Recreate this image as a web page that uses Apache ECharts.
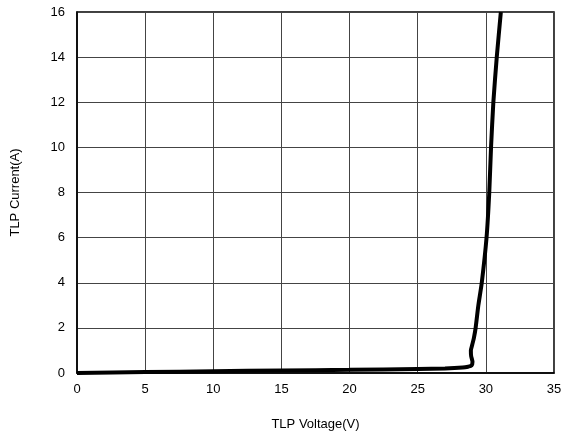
<!DOCTYPE html>
<html><head><meta charset="utf-8">
<script src="https://cdn.jsdelivr.net/npm/echarts@6/dist/echarts.min.js"></script>
<style>html,body{margin:0;padding:0;background:#fff}#c{width:565px;height:440px}</style>
</head><body><div id="c"></div>
<script>
const voltage = [0, 5, 10, 15, 20, 25, 27, 28.3, 28.7, 28.95, 29.02, 28.92, 28.9, 29.0, 29.12, 29.25, 29.45, 29.7, 30.05, 30.25, 30.38, 30.55, 30.8, 31.1];
const current = [0, 0.04, 0.08, 0.11, 0.14, 0.18, 0.2, 0.24, 0.28, 0.33, 0.5, 0.75, 1.0, 1.25, 1.55, 2.0, 3.0, 4.0, 6.0, 8.0, 10.0, 12.0, 14.0, 16.0];
const xName = 'TLP Voltage(V)';
const yName = 'TLP Current(A)';

const chart = echarts.init(document.getElementById('c'), null, {renderer: 'canvas'});
const font = 'Liberation Sans, Arial, sans-serif';
chart.setOption({
  animation: false,
  grid: {left: 77, right: 11, top: 12, bottom: 67, show: true, borderColor: '#000', borderWidth: 1.5},
  xAxis: {
    type: 'value', min: 0, max: 35, interval: 5,
    name: xName, nameLocation: 'middle', nameGap: 45,
    nameTextStyle: {color: '#000', fontSize: 13, fontFamily: font},
    axisLine: {show: true, lineStyle: {color: '#000', width: 1.5}},
    axisTick: {show: false},
    axisLabel: {color: '#000', fontSize: 13, fontFamily: font, margin: 10},
    splitLine: {show: true, lineStyle: {color: '#444', width: 1}}
  },
  yAxis: {
    type: 'value', min: 0, max: 16, interval: 2,
    name: yName, nameLocation: 'middle', nameGap: 55, nameRotate: 90,
    nameTextStyle: {color: '#000', fontSize: 13, fontFamily: font},
    axisLine: {show: true, lineStyle: {color: '#000', width: 1.5}},
    axisTick: {show: false},
    axisLabel: {color: '#000', fontSize: 13, fontFamily: font, margin: 12},
    splitLine: {show: true, lineStyle: {color: '#444', width: 1}}
  },
  series: [{
    type: 'line',
    data: voltage.map((v, i) => [v, current[i]]),
    showSymbol: false,
    smooth: 0.2,
    lineStyle: {color: '#000', width: 4},
    clip: true
  }]
});
</script></body></html>
